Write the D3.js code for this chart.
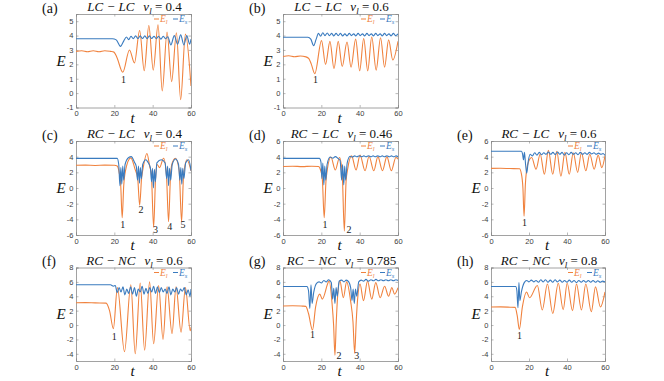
<!DOCTYPE html>
<html><head><meta charset="utf-8">
<script src="https://cdn.jsdelivr.net/npm/d3@7"></script>
<style>body{margin:0;background:#fff}svg{display:block}</style>
</head><body><svg id="c" width="664" height="381"></svg>
<script>
// ---------- categories / labels ----------
const panelIds = ['a','b','c','d','e','f','g','h'];
const panelTitles = ['LC − LC','LC − LC','RC − LC','RC − LC','RC − LC','RC − NC','RC − NC','RC − NC'];
const panelVl = ['0.4','0.6','0.4','0.46','0.6','0.6','0.785','0.8'];
const xTicks = [0,20,40,60];
const yTicks1 = [-1,0,1,2,3,4,5];
const yTicks2 = [-6,-4,-2,0,2,4,6];
const yTicks3 = [-4,-2,0,2,4,6,8];
const yDom1 = [-1,5.5], yDom2 = [-6,6], yDom3 = [-5,8];

// ---------- series values [t, E] ----------
const aEl = [[0,2.9],[3,2.95],[6,2.88],[9,2.95],[12,2.88],[15,2.95],[18,2.9],[19.8,2.85],[21.3,2.5],[24.4,1.45],[27.9,3.0],[30.5,2.1],[33.2,4.35],[35.6,1.55],[38.0,4.7],[40.3,1.6],[42.8,4.75],[45.0,0.15],[47.5,4.25],[49.9,0.8],[52.4,4.2],[54.6,-0.45],[57.1,4.1],[60,0.5]];
const aEs = [[0,3.78],[19,3.78],[21,3.7],[23.2,3.25],[25,3.65],[26.3,3.9],[27.5,3.72],[28.7,3.95],[29.9,3.78],[31.1,3.98],[32.3,3.8],[33.5,3.98],[34.7,3.8],[35.9,3.98],[37.1,3.78],[38.3,3.98],[39.5,3.8],[40.7,3.95],[41.9,3.78],[43.1,3.95],[44.3,3.75],[45.5,3.95],[46.7,3.78],[47.9,3.92],[49.5,3.35],[51.3,4.0],[53.0,3.4],[54.6,4.05],[56.3,3.35],[57.8,4.0],[59.3,3.4],[60,3.75]];
const bEl = [[0,2.55],[3,2.6],[6,2.53],[9,2.58],[12,2.52],[13.5,2.4],[14.8,2.0],[16.6,1.35],[20.1,3.65],[22.2,2.0],[24.5,3.6],[26.6,1.7],[28.8,3.6],[30.9,1.85],[33.4,3.55],[35.5,1.8],[37.9,3.75],[40.0,1.55],[42.1,3.8],[44.2,1.55],[46.3,3.9],[48.6,1.6],[50.9,3.85],[53.0,1.8],[55.1,3.7],[57.3,2.3],[60,3.6]];
const bEs = [[0,3.88],[13,3.88],[14.5,3.75],[16.0,3.3],[17.3,3.75],[18.5,4.15],[19.6,3.95],[20.8,4.2],[21.9,4.0],[23.1,4.18],[24.2,4.0],[25.4,4.15],[26.5,3.98],[27.7,4.15],[28.8,4.0],[30.0,4.15],[31.1,3.98],[32.3,4.12],[33.4,3.98],[34.6,4.15],[35.7,4.0],[36.9,4.12],[38.0,3.98],[39.2,4.15],[40.3,4.0],[41.5,4.12],[42.6,3.98],[43.8,4.15],[44.9,4.0],[46.1,4.12],[47.2,3.98],[48.4,4.15],[49.5,4.0],[50.7,4.12],[51.8,3.98],[53.0,4.15],[54.1,4.0],[55.3,4.12],[56.4,3.98],[57.6,4.15],[58.7,4.0],[60,4.12]];
const cEl = [[0,2.9],[5,2.92],[10,2.88],[15,2.92],[20,2.9],[21.5,2.8],[22.5,2.0],[23.3,0.5],[24.1,-3.8],[24.9,0.3],[25.8,2.2],[28.6,3.85],[30.8,2.4],[32.2,1.2],[33.2,-2.2],[34.2,1.2],[35.2,2.8],[37.0,4.4],[38.5,2.7],[39.3,1.8],[40.5,-5.0],[41.5,1.2],[42.3,3.0],[43.6,2.6],[45.7,3.8],[47.2,1.6],[48.3,-4.3],[49.3,1.5],[50.0,3.0],[51.8,3.8],[53.8,2.3],[55.1,-4.3],[56.1,1.5],[57.9,3.6],[60,2.2]];
const cEs = [[0,3.78],[21.5,3.78],[22.3,3.0],[22.9,0.3],[23.4,2.6],[23.9,0.5],[24.4,2.8],[24.9,1.0],[25.6,3.0],[27.5,3.9],[28.8,4.0],[30.5,3.3],[31.5,2.7],[32.1,1.0],[32.6,2.8],[33.1,0.6],[33.6,2.6],[34.1,1.2],[34.8,3.0],[36.5,3.6],[37.5,3.3],[38.8,2.6],[39.4,0.8],[39.9,2.5],[40.4,0.0],[40.9,2.4],[41.4,0.8],[42.2,3.2],[44.5,3.6],[46.5,3.2],[47.3,1.2],[47.8,2.8],[48.3,0.3],[48.8,2.5],[49.4,1.0],[50.2,3.0],[52,3.7],[53.5,3.0],[54.2,1.0],[54.7,2.6],[55.2,0.5],[55.7,2.5],[56.3,1.2],[57.2,3.2],[58.8,3.6],[60,2.2]];
const dEl = [[0,2.75],[5,2.78],[10,2.73],[15,2.78],[18.5,2.75],[19.6,2.3],[20.5,1.2],[21.5,-3.8],[22.4,0.8],[23.2,2.5],[25.0,3.95],[27.3,2.3],[29.5,3.9],[30.9,1.8],[32.0,-5.5],[32.9,0.8],[33.8,2.5],[35.8,4.1],[38.1,2.3],[40.2,4.2],[42.8,2.2],[44.9,4.05],[47.4,2.2],[49.5,4.0],[51.9,2.2],[54.2,4.0],[56.5,2.2],[58.9,3.9],[60,3.7]];
const dEs = [[0,3.78],[19,3.78],[19.8,3.3],[20.3,1.2],[20.8,3.2],[21.3,0.4],[21.8,2.8],[22.3,1.0],[23.0,3.0],[24.6,3.95],[26.0,3.8],[27.3,4.0],[28.6,3.8],[29.8,3.5],[30.6,1.0],[31.1,3.0],[31.7,0.4],[32.2,2.8],[32.7,1.0],[33.5,3.2],[35.0,4.05],[36.2,3.95],[37.4,4.1],[38.6,3.98],[39.8,4.12],[41.0,3.98],[42.2,4.1],[43.4,3.98],[44.6,4.12],[45.8,3.98],[47.0,4.1],[48.2,3.98],[49.4,4.12],[50.6,3.98],[51.8,4.1],[53.0,3.98],[54.2,4.12],[55.4,3.98],[56.6,4.1],[57.8,3.98],[59.0,4.1],[60,4.0]];
const eEl = [[0,2.5],[5,2.52],[10,2.48],[15,2.45],[16.0,1.8],[16.8,0.0],[17.4,-3.6],[18.1,0.5],[19.3,3.0],[21.4,3.9],[23.7,2.4],[25.9,4.35],[28.1,1.75],[30.2,4.8],[32.5,1.75],[34.6,4.7],[36.8,1.5],[38.9,4.55],[41.2,1.75],[43.3,4.5],[45.6,2.0],[47.6,4.5],[49.9,2.2],[52.0,4.3],[54.3,2.4],[56.4,4.2],[58.3,2.6],[60,4.1]];
const eEs = [[0,4.7],[16,4.7],[16.6,4.35],[17.1,3.6],[17.6,4.55],[18.2,3.0],[18.8,1.9],[19.6,3.4],[20.6,4.3],[21.8,4.1],[23.0,4.5],[24.2,4.2],[25.4,4.55],[26.6,4.25],[27.8,4.5],[29.0,4.3],[30.2,4.6],[31.4,4.3],[32.6,4.55],[33.8,4.25],[35.0,4.6],[36.2,4.3],[37.4,4.55],[38.6,4.2],[39.8,4.5],[41.0,4.25],[42.2,4.55],[43.4,4.3],[44.6,4.5],[45.8,4.25],[47.0,4.55],[48.2,4.3],[49.4,4.5],[50.6,4.3],[51.8,4.55],[53.0,4.35],[54.2,4.5],[55.4,4.3],[56.6,4.45],[57.8,4.3],[59.0,4.4],[60,4.15]];
const fEl = [[0,3.1],[5,3.12],[10,3.08],[15.7,3.05],[17.5,2.0],[19.5,-0.5],[21.6,5.2],[25.3,-3.7],[28.6,5.6],[30.9,-4.0],[33.5,5.85],[35.8,-3.5],[38.4,6.0],[40.5,-2.6],[43.1,5.5],[45.4,-2.0],[47.5,5.3],[50.1,-1.2],[52.2,5.3],[54.8,-1.0],[57.1,5.2],[59.6,-0.8],[60,-0.3]];
const fEs = [[0,5.6],[18,5.6],[19.5,5.4],[20.5,5.5],[21.5,4.5],[22.5,5.2],[23.5,4.6],[24.5,5.3],[25.5,4.2],[26.5,5.0],[27.5,4.4],[28.5,5.3],[29.5,4.3],[30.5,5.2],[31.5,4.0],[32.5,5.0],[33.5,4.6],[34.5,5.4],[35.5,4.3],[36.5,5.1],[37.5,4.4],[38.5,5.2],[39.5,4.6],[40.5,5.4],[41.5,4.4],[42.5,5.3],[43.5,4.5],[44.5,5.2],[45.5,4.6],[46.5,5.0],[47.5,4.4],[48.5,5.3],[49.5,4.2],[50.5,5.0],[51.5,4.6],[52.5,5.2],[53.5,4.3],[54.5,5.0],[55.5,4.7],[56.5,5.2],[57.5,4.2],[58.5,4.9],[59.5,4.0],[60,5.0]];
const gEl = [[0,2.65],[5,2.68],[10,2.63],[11.9,2.6],[13.3,1.6],[15.4,-0.7],[17.0,2.5],[19.2,4.3],[20.5,3.6],[24.1,6.1],[25.6,3.0],[26.4,0.0],[27.1,-4.2],[27.8,0.5],[28.5,4.0],[29.7,6.1],[31.5,3.8],[33.2,6.0],[35.3,3.3],[36.5,0.5],[37.4,-3.9],[38.2,0.5],[38.9,3.5],[40.2,5.7],[42.0,3.4],[44.1,6.1],[46.3,3.6],[48.4,5.9],[50.7,3.8],[53.0,5.4],[55.1,4.0],[56.8,5.2],[58.2,4.3],[60,5.2]];
const gEs = [[0,5.35],[12.5,5.35],[13.3,4.8],[14.0,2.3],[14.6,5.6],[15.2,3.0],[16.0,4.5],[17.5,5.8],[18.8,6.0],[20.0,5.85],[21.3,6.2],[22.5,6.0],[23.8,6.3],[25.2,5.9],[25.9,3.6],[26.5,5.1],[27.1,3.0],[27.7,5.2],[28.3,4.0],[29.3,6.1],[30.6,6.25],[31.8,6.0],[33.0,6.25],[34.3,6.0],[35.3,5.2],[36.0,3.4],[36.6,5.0],[37.2,3.0],[37.8,5.0],[38.5,4.0],[39.5,6.0],[40.8,6.25],[42.0,6.1],[43.3,6.35],[44.6,6.1],[45.9,6.3],[47.2,6.15],[48.5,6.35],[49.8,6.15],[51.1,6.3],[52.4,6.15],[53.7,6.3],[55.0,6.15],[56.3,6.3],[57.6,6.15],[58.9,6.3],[60,6.2]];
const hEl = [[0,2.5],[5,2.52],[10,2.48],[12.7,2.45],[13.8,1.3],[14.9,-0.6],[16.5,2.5],[18.7,4.6],[20.3,3.8],[24.4,5.5],[27.0,2.1],[29.7,5.7],[32.5,1.6],[35.4,5.8],[38.0,2.15],[40.1,5.8],[42.9,2.0],[45.0,5.7],[47.6,2.1],[49.9,5.7],[52.8,1.85],[55.0,5.3],[57.6,2.5],[60,4.6]];
const hEs = [[0,5.35],[13.0,5.35],[13.6,4.8],[14.2,2.4],[14.7,5.9],[15.2,3.4],[16.0,4.6],[17.5,5.9],[18.8,6.2],[20.0,6.0],[21.2,6.25],[22.5,6.0],[23.7,6.2],[25.0,5.95],[26.2,6.3],[27.5,6.0],[28.7,6.3],[30.0,5.95],[31.2,6.25],[32.5,5.95],[33.7,6.3],[35.0,6.0],[36.2,6.25],[37.5,5.95],[38.7,6.2],[40.0,5.95],[41.2,6.25],[42.5,5.95],[43.7,6.2],[45.0,5.9],[46.2,6.2],[47.5,5.95],[48.7,6.2],[50.0,5.95],[51.2,6.2],[52.5,5.95],[53.7,6.2],[55.0,5.95],[56.2,6.15],[57.5,5.95],[58.7,6.1],[60,6.0]];

// ---------- annotation numbers [t, E, text] ----------
const aMarks = [[24.8,0.89,'1']];
const bMarks = [[17.0,0.89,'1']];
const cMarks = [[24.4,-4.78,'1'],[33.9,-2.96,'2'],[41.5,-5.43,'3'],[48.9,-5.13,'4'],[55.8,-4.87,'5']];
const dMarks = [[21.9,-4.78,'1'],[34.4,-5.43,'2']];
const eMarks = [[17.6,-4.57,'1']];
const fMarks = [[19.9,-1.73,'1']];
const gMarks = [[15.4,-1.55,'1'],[29.2,-4.45,'2'],[38.5,-4.45,'3']];
const hMarks = [[15.0,-1.68,'1']];

// ---------- layout ----------
const colX = [[76,191],[283,398],[491,605]];
const rowY = [[14,107.5],[141,235],[267.5,361]];
const ORANGE = '#f0823e', BLUE = '#3a7bbf';

const panels = [
  {l:aEl,s:aEs,m:aMarks,c:0,r:0,dom:yDom1,yt:yTicks1},
  {l:bEl,s:bEs,m:bMarks,c:1,r:0,dom:yDom1,yt:yTicks1},
  {l:cEl,s:cEs,m:cMarks,c:0,r:1,dom:yDom2,yt:yTicks2},
  {l:dEl,s:dEs,m:dMarks,c:1,r:1,dom:yDom2,yt:yTicks2},
  {l:eEl,s:eEs,m:eMarks,c:2,r:1,dom:yDom2,yt:yTicks2},
  {l:fEl,s:fEs,m:fMarks,c:0,r:2,dom:yDom3,yt:yTicks3},
  {l:gEl,s:gEs,m:gMarks,c:1,r:2,dom:yDom3,yt:yTicks3},
  {l:hEl,s:hEs,m:hMarks,c:2,r:2,dom:yDom3,yt:yTicks3}
];

const svg = d3.select('#c');
svg.append('rect').attr('width',664).attr('height',381).attr('fill','#fff');
const serif = '"Liberation Serif", "DejaVu Serif", serif';
const sans = '"Liberation Sans", Arial, sans-serif';

panels.forEach((p,i)=>{
  const [x0,x1] = colX[p.c], [y0,y1] = rowY[p.r];
  const x = d3.scaleLinear().domain([0,60]).range([x0,x1]);
  const y = d3.scaleLinear().domain(p.dom).range([y1,y0]);
  const g = svg.append('g');
  const cid = 'clip'+i;
  svg.append('clipPath').attr('id',cid).append('rect')
     .attr('x',x0).attr('y',y0).attr('width',x1-x0).attr('height',y1-y0);

  // axes
  const ax = g.append('g').attr('transform',`translate(0,${y1})`)
    .call(d3.axisBottom(x).tickValues(xTicks).tickSize(-2.5).tickPadding(3.5));
  const ay = g.append('g').attr('transform',`translate(${x0},0)`)
    .call(d3.axisLeft(y).tickValues(p.yt).tickSize(-2.5).tickPadding(2.5).tickFormat(d3.format('d')));
  const axT = g.append('g').attr('transform',`translate(0,${y0})`)
    .call(d3.axisTop(x).tickValues(xTicks).tickSize(-2.5).tickFormat(''));
  const ayR = g.append('g').attr('transform',`translate(${x1},0)`)
    .call(d3.axisRight(y).tickValues(p.yt).tickSize(-2.5).tickFormat(''));
  [ax,ay,axT,ayR].forEach(a=>{
    a.select('.domain').attr('stroke','#8a8a8a').attr('stroke-width',0.8);
    a.selectAll('.tick line').attr('stroke','#8a8a8a').attr('stroke-width',0.6);
    a.selectAll('.tick text').attr('fill','#3c3c3c').style('font-family',sans).style('font-size','7.5px');
  });
  ay.selectAll('.tick text').text(d=> d<0 ? '-'+Math.abs(d) : d);

  // lines
  const line = d3.line().x(d=>x(d[0])).y(d=>y(d[1])).curve(d3.curveMonotoneX);
  const lg = g.append('g').attr('clip-path',`url(#${cid})`);
  lg.append('path').datum(p.l).attr('d',line).attr('fill','none').attr('stroke',ORANGE).attr('stroke-width',1.1);
  lg.append('path').datum(p.s).attr('d',line).attr('fill','none').attr('stroke',BLUE).attr('stroke-width',1.1);

  // annotation numbers
  p.m.forEach(m=>{
    g.append('text').attr('x',x(m[0])).attr('y',y(m[1])).attr('text-anchor','middle')
      .attr('dominant-baseline','middle').attr('fill','#222')
      .style('font-family',serif).style('font-size','10px').text(m[2]);
  });

  // legend
  const lx = x1 - 37, ly = y0 + 5;
  const leg = g.append('g').style('font-family',serif).style('font-style','italic').style('font-size','9.5px');
  leg.append('line').attr('x1',lx).attr('x2',lx+5).attr('y1',ly).attr('y2',ly).attr('stroke',ORANGE).attr('stroke-width',1);
  const t1 = leg.append('text').attr('x',lx+6).attr('y',ly+3).attr('fill',ORANGE);
  t1.append('tspan').text('E'); t1.append('tspan').attr('dy',2).style('font-size','6.5px').text('l');
  leg.append('line').attr('x1',lx+19).attr('x2',lx+24).attr('y1',ly).attr('y2',ly).attr('stroke',BLUE).attr('stroke-width',1);
  const t2 = leg.append('text').attr('x',lx+25).attr('y',ly+3).attr('fill',BLUE);
  t2.append('tspan').text('E'); t2.append('tspan').attr('dy',2).style('font-size','6.5px').text('s');

  // title
  const cx = (x0+x1)/2;
  const tt = g.append('text').attr('x',cx+1).attr('y',y0-3).attr('text-anchor','middle')
     .attr('fill','#111').style('font-family',serif).style('font-size','13px');
  tt.append('tspan').style('font-style','italic').text(panelTitles[i]);
  tt.append('tspan').attr('dx',9).style('font-style','italic').text('v');
  tt.append('tspan').attr('dy',3).style('font-style','italic').style('font-size','9px').text('l');
  tt.append('tspan').attr('dy',-3).text(' = '+panelVl[i]);

  // panel label
  g.append('text').attr('x',x0-34).attr('y',y0-1.5).attr('fill','#111')
    .style('font-family',serif).style('font-size','14px').text('('+panelIds[i]+')');

  // axis labels
  g.append('text').attr('x',x0-15).attr('y',(y0+y1)/2+5).attr('text-anchor','middle').attr('fill','#111')
    .style('font-family',serif).style('font-style','italic').style('font-size','15px').text('E');
  g.append('text').attr('x',cx-1).attr('y',y1+15).attr('text-anchor','middle').attr('fill','#111')
    .style('font-family',serif).style('font-style','italic').style('font-size','15px').text('t');
});
</script></body></html>
